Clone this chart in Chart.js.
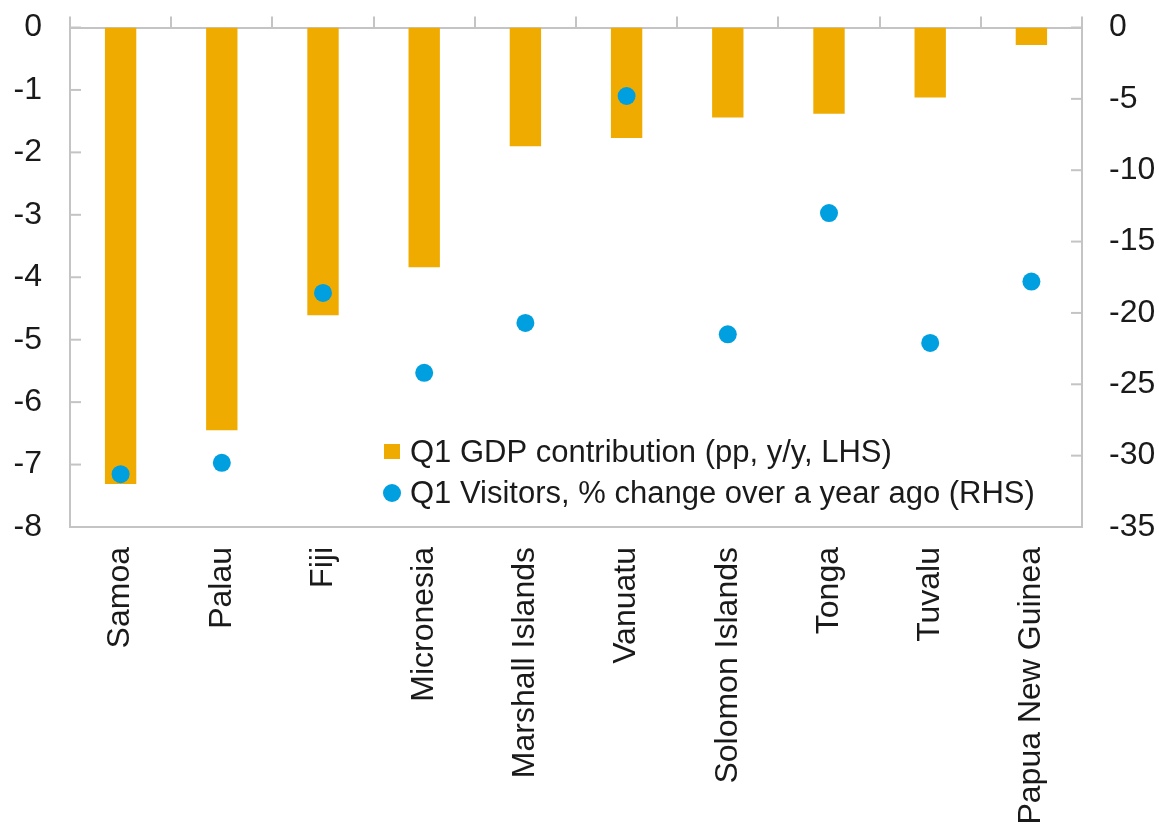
<!DOCTYPE html>
<html>
<head>
<meta charset="utf-8">
<script src="https://cdn.jsdelivr.net/npm/chart.js@4/dist/chart.umd.min.js"></script>
<style>
	html, body { margin: 0; padding: 0; background: #fff; }
	#wrap { position: relative; width: 1159px; height: 835px; }
</style>
</head>
<body>
<div id="wrap"><canvas id="chart" width="1159" height="835"></canvas></div>
<script>
(function () {
	'use strict';

	// data
	const countries = ['Samoa', 'Palau', 'Fiji', 'Micronesia', 'Marshall Islands', 'Vanuatu', 'Solomon Islands', 'Tonga', 'Tuvalu', 'Papua New Guinea'];
	const gdpContribution = [-7.31, -6.45, -4.61, -3.84, -1.90, -1.77, -1.44, -1.38, -1.12, -0.28];
	const visitorsChange = [-31.3, -30.5, -18.6, -24.2, -20.7, -4.8, -21.5, -13.0, -22.1, -17.8];
	const leftTicks = [0, -1, -2, -3, -4, -5, -6, -7, -8];
	const rightTicks = [0, -5, -10, -15, -20, -25, -30, -35];

	const fontFamily = "'Liberation Sans', Arial, sans-serif";
	const textColor = '#1a1a1a';
	const axisColor = '#c4c4c4';
	const axisWidth = 2;
	const barColor = '#f0ab00';
	const dotColor = '#009fdf';

	// Excel style tick marks pointing into the plot
	const innerTicks = {
		id: 'innerTicks',
		afterDraw: function(chart) {
			const ctx = chart.ctx;
			const area = chart.chartArea;
			ctx.save();
			ctx.strokeStyle = axisColor;
			ctx.lineWidth = axisWidth;
			chart.scales.y.ticks.forEach(function(t) {
				const py = chart.scales.y.getPixelForValue(t.value);
				ctx.beginPath();
				ctx.moveTo(area.left, py);
				ctx.lineTo(area.left + 11, py);
				ctx.stroke();
			});
			chart.scales.y1.ticks.forEach(function(t) {
				const py = chart.scales.y1.getPixelForValue(t.value);
				ctx.beginPath();
				ctx.moveTo(area.right, py);
				ctx.lineTo(area.right - 11, py);
				ctx.stroke();
			});
			ctx.restore();
		}
	};

	// legend sits inside the plot, lower right
	const insideLegend = {
		id: 'insideLegend',
		afterDraw: function(chart) {
			const ctx = chart.ctx;
			const area = chart.chartArea;
			const x = area.left + 314;
			const rows = [area.bottom - 75, area.bottom - 34];
			ctx.save();
			ctx.font = '31px ' + fontFamily;
			ctx.textBaseline = 'middle';
			ctx.fillStyle = textColor;
			chart.data.datasets.forEach(function(ds, i) {
				const y = rows[i];
				ctx.fillStyle = ds.type === 'line' ? ds.pointBackgroundColor : ds.backgroundColor;
				if (ds.type === 'line') {
					ctx.beginPath();
					ctx.arc(x + 8, y, 9, 0, Math.PI * 2);
					ctx.fill();
				} else {
					ctx.fillRect(x, y - 8, 16, 15);
				}
				ctx.fillStyle = textColor;
				ctx.fillText(ds.label, x + 26, y + 1);
			});
			ctx.restore();
		}
	};

	// fixed axis sizes so the plot box lands where it is in the picture
	function fixWidth(w) {
		return function(scale) {
			scale.width = w;
			scale.paddingTop = 0;
			scale.paddingBottom = 0;
		};
	}

	new Chart(document.getElementById('chart'), {
		type: 'bar',
		data: {
			labels: countries,
			datasets: [
				{
					type: 'bar',
					label: 'Q1 GDP contribution (pp, y/y, LHS)',
					data: gdpContribution,
					backgroundColor: barColor,
					barPercentage: 1,
					categoryPercentage: 0.31,
					yAxisID: 'y',
					order: 2
				},
				{
					type: 'line',
					label: 'Q1 Visitors, % change over a year ago (RHS)',
					data: visitorsChange,
					showLine: false,
					pointRadius: 9,
					pointHoverRadius: 9,
					pointBackgroundColor: dotColor,
					pointBorderWidth: 0,
					borderColor: dotColor,
					yAxisID: 'y1',
					order: 1
				}
			]
		},
		options: {
			responsive: false,
			animation: false,
			devicePixelRatio: 1,
			layout: { padding: 0 },
			plugins: {
				legend: { display: false },
				tooltip: { enabled: false }
			},
			scales: {
				x: {
					position: 'bottom',
					offset: true,
					grid: { display: false, drawTicks: false },
					border: { display: true, color: axisColor, width: axisWidth },
					ticks: {
						autoSkip: false,
						minRotation: 90,
						maxRotation: 90,
						padding: 20,
						color: textColor,
						font: { family: fontFamily, size: 32 }
					},
					afterFit: function(scale) { scale.height = 308; }
				},
				x2: {
					type: 'category',
					axis: 'x',
					position: 'top',
					offset: true,
					grid: {
						display: true,
						offset: true,
						drawOnChartArea: false,
						drawTicks: true,
						tickLength: 11,
						color: axisColor,
						lineWidth: axisWidth
					},
					border: { display: true, color: axisColor, width: axisWidth },
					ticks: { display: false },
					afterFit: function(scale) { scale.height = 27.5; }
				},
				y: {
					position: 'left',
					min: -8,
					max: 0,
					grid: { display: false, drawTicks: false },
					border: { display: true, color: axisColor, width: axisWidth },
					ticks: {
						stepSize: 1,
						padding: 28,
						color: textColor,
						font: { family: fontFamily, size: 32 }
					},
					afterBuildTicks: function(scale) {
						scale.ticks = leftTicks.map(function(v) { return { value: v }; });
					},
					afterFit: fixWidth(70)
				},
				y1: {
					position: 'right',
					min: -35,
					max: 0,
					grid: { display: false, drawTicks: false },
					border: { display: true, color: axisColor, width: axisWidth },
					ticks: {
						stepSize: 5,
						padding: 27,
						color: textColor,
						font: { family: fontFamily, size: 32 }
					},
					afterBuildTicks: function(scale) {
						scale.ticks = rightTicks.map(function(v) { return { value: v }; });
					},
					afterFit: fixWidth(77)
				}
			}
		},
		plugins: [innerTicks, insideLegend]
	});
})();
</script>
</body>
</html>
